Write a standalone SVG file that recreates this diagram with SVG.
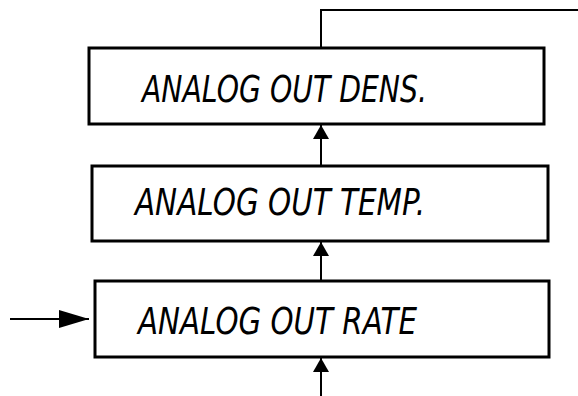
<svg xmlns="http://www.w3.org/2000/svg" width="578" height="396" viewBox="0 0 578 396">
<style>
.box{fill:#fff;stroke:#000;stroke-width:3}
.lbl{font-family:"DejaVu Sans","Liberation Sans",sans-serif;font-style:italic;font-size:37px;fill:#000}
.con{fill:none;stroke:#000;stroke-width:2}
</style>
<defs>
<marker id="ah" markerUnits="userSpaceOnUse" markerWidth="16" markerHeight="16" viewBox="0 0 14 16" refX="14" refY="8" orient="auto">
<path d="M0,0 L14,8 L0,16 Z" fill="#000"/>
</marker>
<marker id="ahl" markerUnits="userSpaceOnUse" markerWidth="30" markerHeight="18" viewBox="0 0 30 18" refX="30" refY="9" orient="auto">
<path d="M0,0 L30,9 L0,18 Z" fill="#000"/>
</marker>
</defs>
<g id="connectors">
<path class="con" d="M321,47 V10 H578"/>
<path class="con" d="M321,166 V125" marker-end="url(#ah)"/>
<path class="con" d="M321,281 V242" marker-end="url(#ah)"/>
<path class="con" d="M321,396 V358" marker-end="url(#ah)"/>
<path class="con" d="M10,319 H89" marker-end="url(#ahl)"/>
</g>
<g id="node-dens">
<rect class="box" x="89" y="48" width="455" height="76"/>
<text class="lbl" x="142" y="102" textLength="285" lengthAdjust="spacingAndGlyphs">ANALOG OUT DENS.</text>
</g>
<g id="node-temp">
<rect class="box" x="92" y="166" width="456" height="75"/>
<text class="lbl" x="135" y="215" textLength="290" lengthAdjust="spacingAndGlyphs">ANALOG OUT TEMP.</text>
</g>
<g id="node-rate">
<rect class="box" x="95" y="281" width="454" height="76"/>
<text class="lbl" x="138" y="334" textLength="279" lengthAdjust="spacingAndGlyphs">ANALOG OUT RATE</text>
</g>
</svg>
